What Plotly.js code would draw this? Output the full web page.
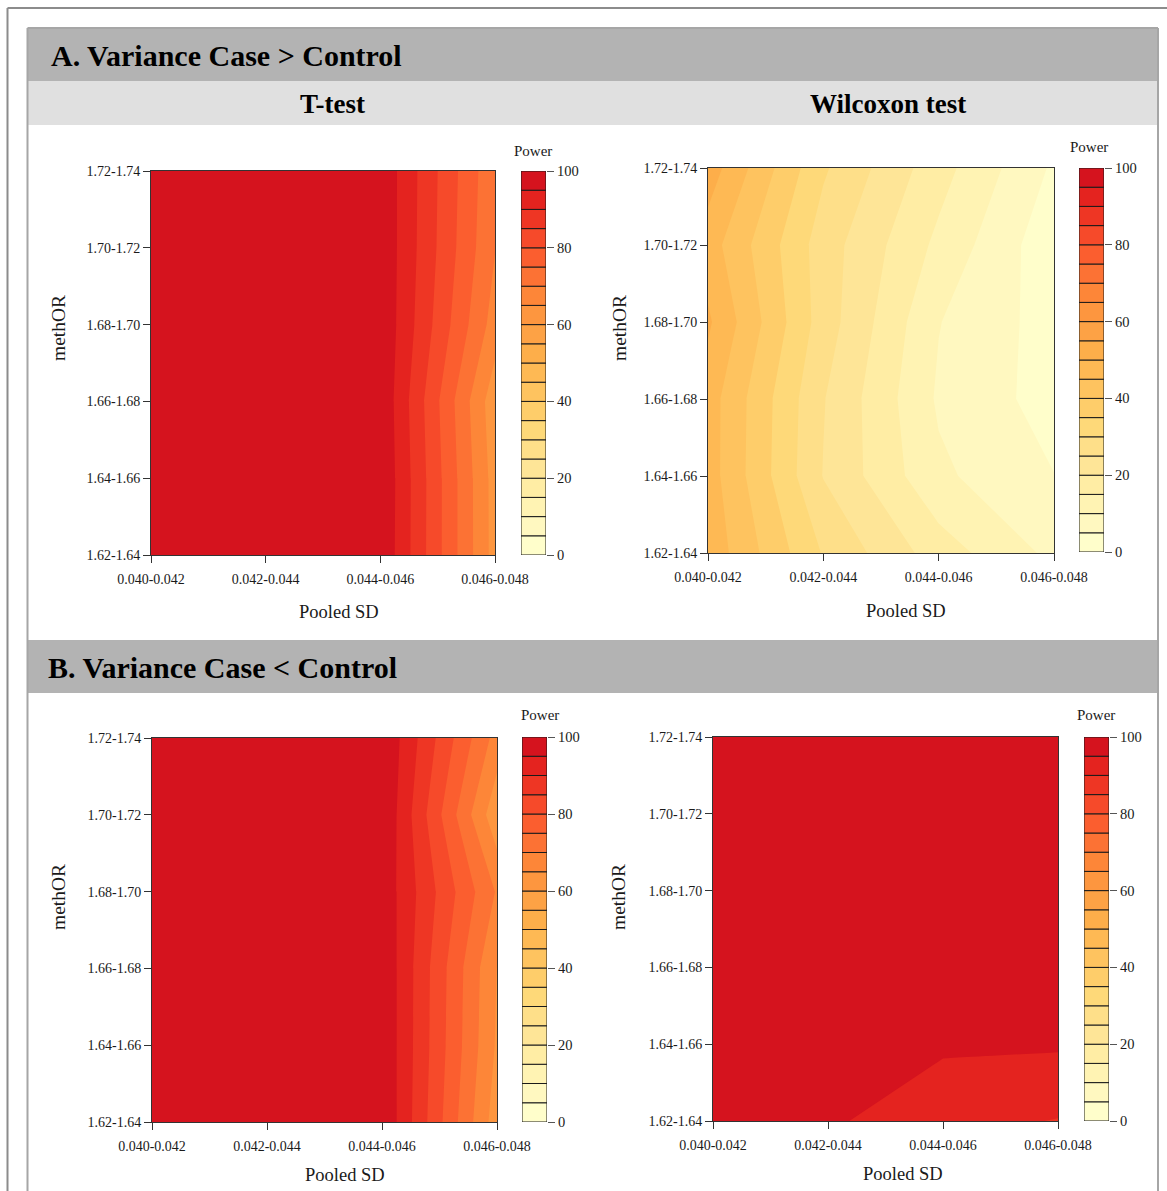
<!DOCTYPE html>
<html>
<head>
<meta charset="utf-8">
<script src="https://cdn.plot.ly/plotly-3.0.1.min.js"></script>
<style>
  html, body { margin: 0; padding: 0; background: #ffffff; }
  #chart { width: 1167px; height: 1191px; }
</style>
</head>
<body>
<div id="chart"></div>
<script>
// ---- data -------------------------------------------------------------
const pooledSD = ['0.040-0.042', '0.042-0.044', '0.044-0.046', '0.046-0.048'];
const methOR = ['1.62-1.64', '1.64-1.66', '1.66-1.68', '1.68-1.70', '1.70-1.72', '1.72-1.74'];

// Power (%): one row per methOR bin (bottom to top), one column per pooled SD bin
const powerTtestGreater = [
  [100, 100, 99.6, 63.0],
  [100, 100, 99.8, 62.9],
  [100, 100, 99.4, 61.7],
  [100, 100, 99.4, 67.7],
  [100, 100, 99.2, 70.2],
  [100, 100, 99.1, 70.9]
];
const powerWilcoxonGreater = [
  [48.4, 29.6, 17.5, 8.7],
  [47.4, 24.8, 11.0, 5.1],
  [47.4, 25.3,  9.3, 2.9],
  [50.8, 27.6, 10.2, 2.8],
  [47.4, 27.5, 13.8, 1.5],
  [52.7, 30.7, 17.0, 4.2]
];
const powerTtestLess = [
  [100, 100, 99.8, 62.2],
  [100, 100, 99.5, 64.3],
  [100, 100, 99.4, 64.9],
  [100, 100, 98.7, 69.5],
  [100, 100, 99.9, 61.3],
  [100, 100, 99.9, 68.0]
];
const powerWilcoxonLess = [
  [99.5, 95.8, 91.5, 89.8],
  [99.8, 99.0, 95.8, 95.6],
  [100,  99.6, 98.5, 98.0],
  [100,  99.8, 99.0, 98.5],
  [100,  99.9, 99.3, 98.8],
  [100, 100,   99.5, 99.0]
];

const powerTicks = [0, 20, 40, 60, 80, 100];
const powerStep = 5;   // width of each filled band
// fill colour of each 5-point band, from 0-5 up to 95-100
const bandColors = [
  '#FFFECB', '#FFF8C0', '#FFF3B3', '#FFEDA4', '#FEE597',
  '#FEDF89', '#FED979', '#FECD6A', '#FEC35F', '#FEB954',
  '#FDAE4A', '#FDA245', '#FD963F', '#FD8638', '#FC7234',
  '#FB5E2F', '#F64A2A', '#EE3624', '#E4231F', '#D5131E'
];

// ---- page geometry ---------------------------------------------------
const W = 1167, H = 1191;
const px = x => x / W;
const py = y => 1 - y / H;

const FONT = '"Liberation Serif", "Times New Roman", Times, serif';
const AXIS_COLOR = '#333333';

const colorscale = bandColors.map((c, k) => [k / (bandColors.length - 1), c]);

const panels = [
  { z: powerTtestGreater,    plot: [151, 495, 171, 555], bar: [521, 546, 171, 555], power: [533, 151], xTitle: [339, 612], yTitle: [58, 328] },
  { z: powerWilcoxonGreater, plot: [708, 1054, 168, 553], bar: [1079, 1104, 168, 552], power: [1089, 147], xTitle: [906, 611], yTitle: [619, 328] },
  { z: powerTtestLess,       plot: [152, 497, 738, 1122], bar: [522, 547, 737, 1122], power: [540, 715], xTitle: [345, 1175], yTitle: [58, 897] },
  { z: powerWilcoxonLess,    plot: [713, 1058, 737, 1121], bar: [1084, 1109, 737, 1121], power: [1096, 715], xTitle: [903, 1174], yTitle: [618, 897] }
];

const xIdx = pooledSD.map((_, i) => i);
const yIdx = methOR.map((_, i) => i);
const bandBase = bandColors.map((_, k) => k * powerStep);

const traces = [];
const layout = {
  width: W, height: H,
  margin: { l: 0, r: 0, t: 0, b: 0 },
  paper_bgcolor: '#ffffff',
  plot_bgcolor: '#ffffff',
  font: { family: FONT, color: '#111111' },
  showlegend: false,
  barmode: 'overlay',
  shapes: [],
  annotations: []
};

panels.forEach((p, i) => {
  const n = i + 1;
  const m = i + 5;
  const xs = n === 1 ? '' : String(n);
  const cs = String(m);

  // filled contour of power, straight segments between grid cells
  traces.push({
    type: 'contour',
    x: xIdx, y: yIdx, z: p.z,
    xaxis: 'x' + xs, yaxis: 'y' + xs,
    autocontour: false,
    contours: { start: powerStep, end: 100 - powerStep, size: powerStep, coloring: 'fill', showlines: false },
    line: { width: 0, smoothing: 0 },
    colorscale: colorscale,
    showscale: false,
    hoverinfo: 'skip'
  });

  // discrete colour key drawn as stacked blocks
  traces.push({
    type: 'bar',
    x: bandColors.map(() => 0),
    y: bandColors.map(() => powerStep),
    base: bandBase,
    width: 1,
    marker: { color: bandColors, line: { color: '#1a1a1a', width: 1 } },
    xaxis: 'x' + cs, yaxis: 'y' + cs,
    hoverinfo: 'skip'
  });

  layout['xaxis' + xs] = {
    domain: [px(p.plot[0]), px(p.plot[1])],
    anchor: 'y' + xs,
    range: [0, pooledSD.length - 1],
    tickvals: xIdx, ticktext: pooledSD,
    ticks: 'outside', ticklen: 7, tickwidth: 1, tickcolor: AXIS_COLOR,
    ticklabelstandoff: 4,
    showline: true, mirror: true, linecolor: AXIS_COLOR, linewidth: 1,
    showgrid: false, zeroline: false,
    tickfont: { family: FONT, size: 14, color: '#1a1a1a' },
    fixedrange: true
  };
  layout['yaxis' + xs] = {
    domain: [py(p.plot[3]), py(p.plot[2])],
    anchor: 'x' + xs,
    range: [0, methOR.length - 1],
    tickvals: yIdx, ticktext: methOR,
    ticks: 'outside', ticklen: 7, tickwidth: 1, tickcolor: AXIS_COLOR,
    showline: true, mirror: true, linecolor: AXIS_COLOR, linewidth: 1,
    showgrid: false, zeroline: false,
    tickfont: { family: FONT, size: 14, color: '#1a1a1a' },
    fixedrange: true
  };
  layout['xaxis' + cs] = {
    domain: [px(p.bar[0]), px(p.bar[1])],
    anchor: 'y' + cs,
    range: [-0.5, 0.5],
    visible: false,
    fixedrange: true
  };
  layout['yaxis' + cs] = {
    domain: [py(p.bar[3]), py(p.bar[2])],
    anchor: 'x' + cs,
    side: 'right',
    range: [0, 100],
    tickvals: powerTicks,
    ticks: 'outside', ticklen: 7, tickwidth: 1, tickcolor: '#555555',
    showline: false, showgrid: false, zeroline: false,
    tickfont: { family: FONT, size: 14.5, color: '#1a1a1a' },
    fixedrange: true
  };

  layout.annotations.push(
    { text: 'Power', xref: 'paper', yref: 'paper', x: px(p.power[0]), y: py(p.power[1]),
      xanchor: 'center', yanchor: 'middle', showarrow: false, font: { family: FONT, size: 15, color: '#1a1a1a' } },
    { text: 'Pooled SD', xref: 'paper', yref: 'paper', x: px(p.xTitle[0]), y: py(p.xTitle[1]),
      xanchor: 'center', yanchor: 'middle', showarrow: false, font: { family: FONT, size: 18.5, color: '#1a1a1a' } },
    { text: 'methOR', xref: 'paper', yref: 'paper', x: px(p.yTitle[0]), y: py(p.yTitle[1]), textangle: -90,
      xanchor: 'center', yanchor: 'middle', showarrow: false, font: { family: FONT, size: 19.5, color: '#1a1a1a' } }
  );
});

// ---- frames and header strips ------------------------------------------
const rect = (x0, y0, x1, y1, fill) => ({
  type: 'rect', xref: 'paper', yref: 'paper', layer: 'below',
  x0: px(x0), x1: px(x1), y0: py(y1), y1: py(y0),
  fillcolor: fill, line: { width: 0 }
});
const line = (x0, y0, x1, y1, color, width) => ({
  type: 'line', xref: 'paper', yref: 'paper', layer: 'above',
  x0: px(x0), x1: px(x1), y0: py(y0), y1: py(y1),
  line: { color: color, width: width }
});

layout.shapes.push(
  rect(28, 28, 1158, 81, '#B3B3B3'),
  rect(28, 81, 1158, 125, '#E0E0E0'),
  rect(28, 640, 1158, 693, '#B3B3B3'),
  // outer frame
  line(7.5, 8, 7.5, H, '#8C8C8C', 2),
  line(7.5, 8, W, 8, '#8C8C8C', 2),
  // inner panel border
  line(27.5, 28, 27.5, H, '#A6A6A6', 2),
  line(1158, 28, 1158, H, '#A6A6A6', 2),
  line(27.5, 28, 1158, 28, '#A6A6A6', 2)
);

layout.annotations.push(
  { text: '<b>A. Variance Case &gt; Control</b>', xref: 'paper', yref: 'paper', x: px(49), y: py(56),
    xanchor: 'left', yanchor: 'middle', showarrow: false, font: { family: FONT, size: 30, color: '#000000' } },
  { text: '<b>T-test</b>', xref: 'paper', yref: 'paper', x: px(332), y: py(104),
    xanchor: 'center', yanchor: 'middle', showarrow: false, font: { family: FONT, size: 27, color: '#000000' } },
  { text: '<b>Wilcoxon test</b>', xref: 'paper', yref: 'paper', x: px(888), y: py(104),
    xanchor: 'center', yanchor: 'middle', showarrow: false, font: { family: FONT, size: 27, color: '#000000' } },
  { text: '<b>B. Variance Case &lt; Control</b>', xref: 'paper', yref: 'paper', x: px(46), y: py(667),
    xanchor: 'left', yanchor: 'middle', showarrow: false, font: { family: FONT, size: 30, color: '#000000' } }
);

Plotly.newPlot('chart', traces, layout, { displayModeBar: false, responsive: false });
</script>
</body>
</html>
